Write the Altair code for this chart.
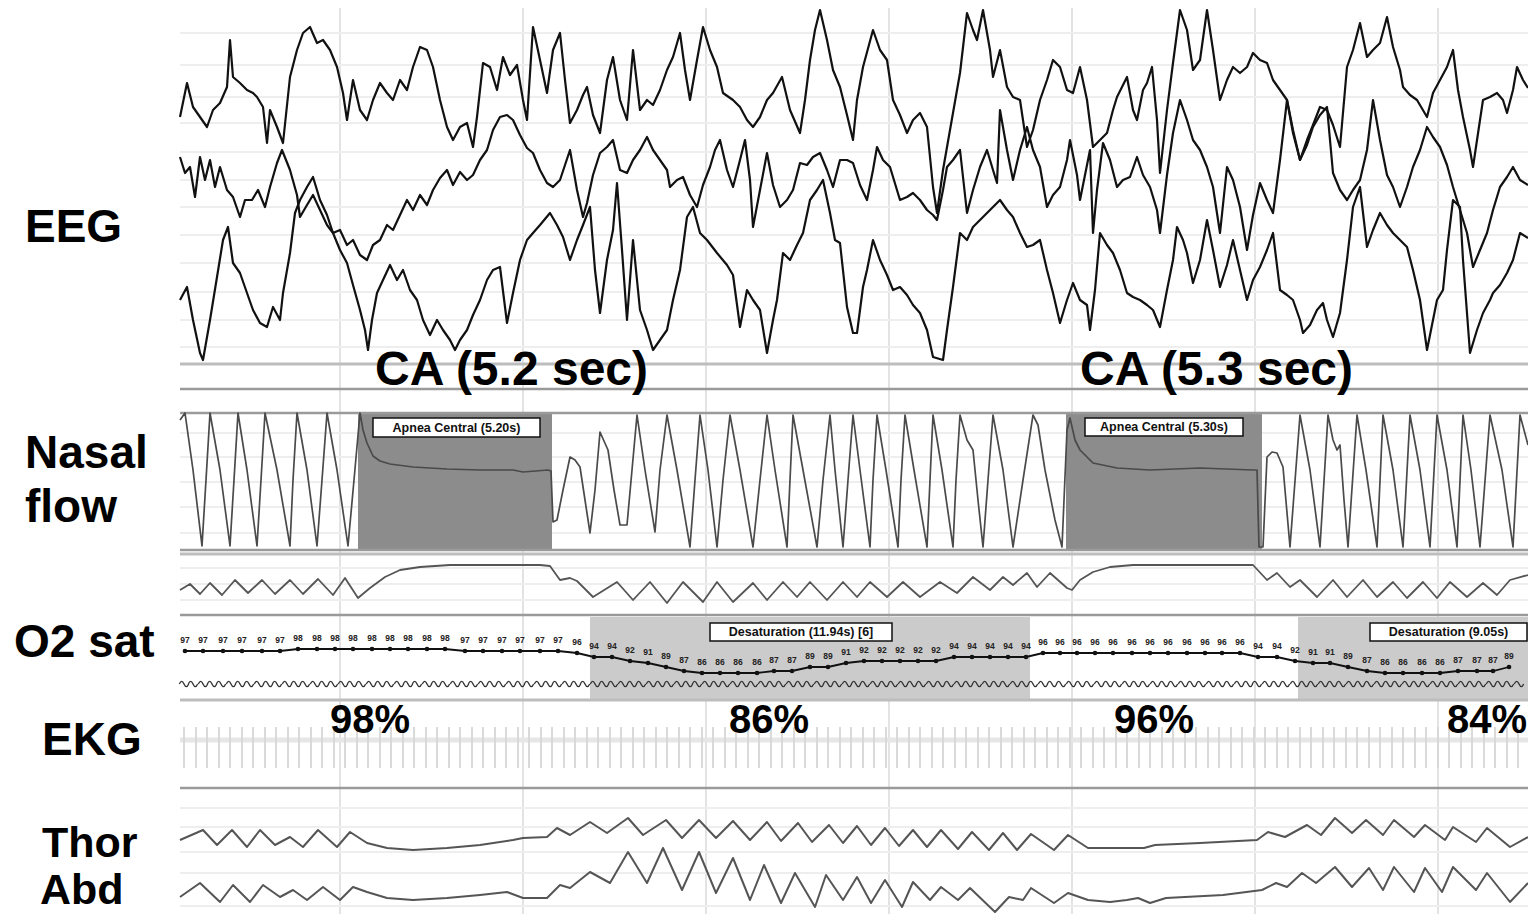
import altair as alt
import pandas as pd

# ---------------- layout constants ----------------
TOP, H, W = 8, 906, 1348          # plot area: display rows 8..914, samples 180..1528
T0, T1 = 180, 1528
FONT = "Liberation Sans"

# ---------------- time grid (every 5 s) ----------------
grid_t = [340, 523, 706, 889, 1072, 1255, 1438]

# faint / separator rows of the recording display
faint_rows = [33, 65, 97, 123, 152, 180, 207, 235, 263, 292, 320, 347,
              433, 457, 482, 507, 533, 568, 584, 600, 808, 827, 852, 873, 906]
light_rows = [364, 554, 700]
dark_rows = [389, 413, 550, 615, 788]

# ---------------- EEG (3 derivations) ----------------
eeg_a = [(180,117),(187,83),(193,107),(200,117),(207,127),(213,110),(220,103),(227,87),(230,40),(233,77),(240,83),(247,90),(253,93),(257,97),(263,107),(267,143),(270,110),(277,127),(283,143),(290,77),(297,50),(303,33),(310,27),(317,43),(323,40),(330,50),(337,67),(343,93),(347,120),(353,80),(360,110),(367,120),(373,100),(380,83),(387,93),(393,100),(400,80),(407,90),(413,67),(420,47),(427,50),(433,67),(440,100),(447,127),(453,140),(460,127),(467,123),(473,147),(477,117),(483,63),(490,67),(497,90),(503,57),(510,75),(517,65),(523,100),(527,120),(533,27),(540,60),(547,93),(553,50),(560,33),(565,80),(570,123),(577,110),(583,95),(587,87),(593,115),(600,133),(607,80),(613,57),(620,100),(627,120),(633,50),(640,110),(647,100),(653,105),(660,90),(667,70),(673,57),(680,33),(685,70),(690,100),(697,60),(703,27),(710,50),(717,67),(723,93),(733,100),(740,107),(747,120),(753,127),(760,117),(767,100),(773,93),(782,77),(790,110),(800,133),(805,100),(810,60),(815,30),(820,10),(827,40),(833,70),(840,87),(847,115),(853,140),(857,100),(863,67),(873,30),(880,50),(887,60),(893,100),(900,115),(907,133),(913,120),(920,113),(927,127),(933,187),(937,213),(943,170),(950,130),(960,73),(967,13),(973,30),(977,40),(983,10),(990,50),(993,77),(1000,50),(1007,87),(1013,97),(1020,100),(1027,147),(1033,130),(1040,100),(1047,80),(1053,60),(1060,67),(1067,90),(1073,93),(1080,67),(1087,100),(1093,147),(1100,140),(1107,133),(1113,110),(1117,97),(1127,77),(1133,110),(1137,120),(1143,90),(1147,83),(1152,67),(1157,120),(1160,173),(1167,110),(1173,63),(1180,10),(1187,30),(1193,70),(1200,60),(1207,10),(1213,50),(1220,100),(1227,80),(1233,67),(1240,73),(1247,67),(1253,53),(1260,60),(1267,63),(1273,80),(1280,90),(1287,100),(1293,133),(1300,160),(1307,140),(1313,125),(1320,107),(1327,110),(1333,125),(1340,147),(1347,67),(1353,50),(1360,23),(1367,57),(1373,50),(1380,43),(1387,17),(1393,47),(1400,70),(1403,87),(1410,95),(1417,100),(1427,117),(1433,93),(1440,80),(1447,67),(1453,50),(1458,90),(1463,117),(1470,150),(1473,167),(1480,120),(1483,100),(1490,97),(1497,93),(1503,100),(1507,113),(1513,90),(1517,67),(1523,80),(1528,88)]

eeg_b = [(180,157),(185,173),(190,167),(195,197),(200,157),(205,180),(210,160),(215,187),(220,167),(227,190),(233,197),(240,217),(245,200),(252,200),(258,190),(265,207),(270,187),(277,163),(282,150),(290,170),(297,195),(300,217),(307,205),(313,195),(320,210),(327,225),(333,233),(340,230),(347,245),(353,240),(360,255),(367,260),(373,245),(380,240),(387,225),(393,230),(400,215),(407,200),(413,210),(420,195),(427,205),(433,190),(440,178),(447,170),(453,185),(460,172),(467,180),(473,175),(480,160),(487,150),(493,130),(500,117),(507,115),(513,120),(520,135),(527,148),(533,153),(540,170),(547,183),(553,187),(560,180),(565,165),(570,150),(577,190),(583,217),(587,203),(593,175),(600,153),(607,147),(613,140),(620,170),(627,173),(633,160),(640,150),(647,137),(653,150),(660,160),(667,170),(670,187),(677,180),(683,177),(690,195),(697,207),(703,185),(710,167),(715,150),(720,140),(727,170),(733,187),(740,160),(745,140),(750,180),(753,227),(760,190),(767,153),(773,185),(780,207),(787,200),(793,190),(800,163),(807,165),(813,157),(820,153),(827,170),(833,187),(840,160),(847,160),(853,163),(860,185),(867,200),(873,170),(877,147),(883,160),(890,167),(900,200),(907,197),(913,193),(920,200),(927,210),(933,215),(937,220),(943,190),(947,167),(953,160),(960,150),(967,213),(973,190),(980,167),(987,150),(993,170),(997,183),(1000,110),(1007,150),(1013,180),(1020,150),(1027,127),(1033,150),(1040,167),(1047,207),(1053,195),(1060,187),(1067,160),(1070,140),(1077,175),(1080,200),(1087,165),(1090,150),(1093,233),(1097,190),(1103,143),(1110,160),(1117,187),(1123,180),(1130,177),(1137,157),(1143,175),(1150,187),(1157,210),(1160,233),(1167,175),(1173,133),(1180,100),(1187,120),(1193,140),(1200,150),(1207,167),(1213,187),(1220,233),(1227,167),(1233,180),(1240,207),(1247,250),(1253,215),(1260,183),(1267,200),(1273,213),(1280,160),(1287,100),(1293,130),(1300,160),(1307,145),(1313,127),(1320,115),(1327,107),(1333,173),(1340,190),(1347,200),(1353,190),(1360,180),(1367,150),(1373,100),(1380,140),(1387,175),(1393,187),(1400,207),(1407,187),(1413,167),(1420,150),(1427,127),(1433,137),(1440,147),(1447,165),(1453,187),(1460,210),(1467,233),(1473,267),(1480,250),(1487,233),(1493,210),(1500,187),(1507,177),(1513,167),(1520,180),(1528,185)]

eeg_c = [(180,300),(187,287),(193,320),(200,353),(203,360),(210,320),(217,277),(223,240),(228,227),(233,263),(240,273),(247,293),(253,310),(260,323),(267,327),(273,307),(280,320),(283,293),(290,253),(295,213),(300,200),(307,187),(313,177),(320,200),(327,215),(333,233),(340,250),(347,263),(353,285),(360,310),(365,330),(368,350),(372,320),(377,293),(383,280),(390,265),(397,280),(403,270),(410,290),(417,300),(423,320),(430,335),(437,320),(443,330),(450,340),(455,350),(460,340),(467,330),(473,315),(480,300),(487,280),(493,270),(500,267),(507,323),(513,293),(520,260),(527,240),(533,233),(540,225),(550,213),(557,225),(563,237),(570,260),(577,240),(583,225),(590,207),(595,270),(600,313),(607,260),(613,230),(617,183),(622,250),(627,320),(633,240),(640,310),(647,330),(653,350),(660,340),(667,330),(673,300),(680,270),(687,217),(693,207),(700,233),(707,240),(717,253),(727,265),(733,275),(740,327),(747,290),(753,300),(760,310),(767,353),(773,320),(777,300),(783,253),(790,260),(797,245),(803,233),(810,200),(817,190),(823,180),(830,213),(835,240),(840,243),(847,307),(853,333),(857,333),(863,287),(867,270),(873,240),(880,260),(887,275),(893,290),(900,287),(907,295),(913,305),(920,313),(927,330),(933,357),(943,360),(947,330),(953,287),(960,233),(967,240),(973,227),(980,220),(987,213),(993,207),(1000,200),(1007,210),(1013,217),(1020,233),(1027,247),(1033,245),(1040,240),(1047,270),(1053,293),(1060,323),(1067,300),(1073,283),(1080,300),(1087,305),(1090,330),(1095,290),(1100,233),(1107,245),(1113,253),(1120,270),(1127,293),(1133,297),(1140,300),(1147,305),(1153,310),(1160,327),(1167,290),(1173,260),(1177,227),(1183,240),(1187,253),(1193,283),(1200,260),(1207,220),(1213,250),(1220,287),(1227,265),(1233,240),(1240,270),(1247,300),(1253,280),(1260,267),(1267,250),(1273,233),(1280,290),(1287,295),(1293,300),(1300,320),(1303,333),(1310,325),(1317,310),(1323,303),(1327,320),(1333,337),(1340,313),(1347,260),(1353,207),(1360,187),(1367,247),(1373,230),(1380,213),(1387,225),(1393,233),(1400,240),(1407,247),(1413,270),(1420,300),(1427,350),(1433,320),(1437,300),(1443,290),(1447,250),(1453,200),(1460,207),(1463,260),(1470,353),(1477,330),(1483,313),(1490,300),(1493,293),(1500,285),(1507,273),(1513,260),(1520,233),(1528,238)]

# ---------------- Nasal flow ----------------
nasal = [(180,420),(185,413),(193,470),(202,546),(206,480),(210,413),(220,470),(230,546),(234,480),(238,413),(247,470),(257,546),(261,480),(265,413),(277,470),(290,546),(293,480),(297,413),(307,470),(317,546),(322,480),(327,413),(337,470),(348,546),(354,480),(360,413),
         (363,430),(367,443),(373,456),(380,461),(390,464),(413,467),(447,469),(480,470),(513,470),(523,472),(548,470),(551,471),(553,522),
         (557,520),(563,490),(570,457),(575,460),(580,467),(585,500),(590,533),(595,490),(600,432),(608,450),(614,490),(620,525),(627,525),(632,470),(637,415),(645,470),(655,532),(660,470),(667,415),(677,470),(690,547),(695,480),(700,415),(708,470),(717,547),(723,480),(730,415),(740,470),(753,547),(760,480),(767,415),(775,470),(787,547),(790,480),(793,415),(803,470),(817,547),(823,480),(830,415),(835,470),(843,547),(848,480),(853,415),(860,470),(870,547),(873,480),(877,415),(886,470),(898,547),(901,480),(905,415),(914,470),(927,547),(930,480),(933,415),(942,470),(953,547),(956,480),(960,415),(967,440),(973,450),(978,500),(983,547),(988,480),(993,415),(1003,470),(1013,547),(1023,480),(1033,415),(1038,425),(1045,470),(1055,520),(1062,547),(1067,430),(1070,418),
         (1075,440),(1080,450),(1093,463),(1117,468),(1150,470),(1200,468),(1253,470),(1257,470),(1259,547),
         (1263,547),(1267,457),(1272,452),(1277,453),(1283,467),(1290,547),(1300,415),(1310,470),(1320,547),(1328,415),(1333,440),(1337,450),(1340,445),(1344,500),(1348,547),(1357,415),(1366,470),(1377,547),(1383,415),(1393,470),(1403,547),(1410,415),(1420,470),(1430,547),(1437,415),(1447,470),(1457,547),(1463,415),(1471,470),(1480,547),(1490,415),(1502,470),(1513,547),(1520,415),(1528,445)]

# second airflow channel (pressure)
pressure = [(180,590),(190,584),(200,594),(210,583),(222,595),(235,580),(248,593),(262,580),(275,594),(290,580),(303,594),(318,579),(333,595),(345,578),(358,598),(370,588),(385,577),(400,570),(420,567),(450,565),(500,565),(540,565),(550,566),(560,580),(570,578),(577,581),(593,597),(617,582),(633,600),(650,582),(667,603),(683,582),(703,602),(717,582),(733,602),(753,583),(767,600),(783,582),(797,597),(810,582),(827,600),(843,582),(857,597),(870,582),(887,597),(903,582),(920,597),(940,582),(957,593),(973,577),(990,590),(1003,577),(1013,585),(1027,573),(1037,587),(1050,573),(1067,588),(1072,590),(1080,580),(1093,572),(1110,567),(1133,565),(1200,565),(1253,565),(1267,580),(1277,573),(1290,587),(1300,580),(1317,597),(1333,580),(1347,597),(1363,580),(1377,597),(1393,582),(1407,598),(1423,582),(1437,598),(1450,582),(1467,597),(1483,583),(1497,595),(1510,580),(1528,575)]

# ---------------- O2 saturation (%) ----------------
spo2_t = [185,203,223,242,262,280,298,317,335,353,372,390,408,427,445,465,483,502,520,540,558,577,594,612,630,648,666,684,702,720,738,757,774,792,810,828,846,864,882,900,918,936,954,972,990,1008,1026,1043,1060,1077,1095,1113,1132,1150,1168,1187,1205,1222,1240,1258,1277,1295,1313,1330,1348,1367,1385,1403,1422,1440,1458,1477,1493,1509]
spo2_v = [97,97,97,97,97,97,98,98,98,98,98,98,98,98,98,97,97,97,97,97,97,96,94,94,92,91,89,87,86,86,86,86,87,87,89,89,91,92,92,92,92,92,94,94,94,94,94,96,96,96,96,96,96,96,96,96,96,96,96,94,94,92,91,91,89,87,86,86,86,86,87,87,87,89]

# pleth pulse beats
pulse_t = [184,193,203,212,221,231,240,249,259,268,277,287,296,305,315,324,333,343,352,361,371,380,389,399,408,417,427,436,445,455,464,473,483,492,501,511,520,529,539,548,557,567,576,585,595,604,613,623,632,641,651,660,669,679,688,697,707,716,725,735,744,753,763,772,781,791,800,809,819,828,837,847,856,865,875,884,893,903,912,921,931,940,949,959,968,977,987,996,1005,1015,1024,1033,1043,1052,1061,1071,1080,1089,1099,1108,1117,1127,1136,1145,1155,1164,1173,1183,1192,1201,1211,1220,1229,1239,1248,1257,1267,1276,1285,1295,1304,1313,1323,1332,1341,1351,1360,1369,1379,1388,1397,1407,1416,1425,1435,1444,1453,1463,1472,1481,1491,1500,1509,1519]

# EKG R-wave times
ekg_t = [184,196,207,219,230,242,253,265,276,288,299,311,322,334,345,357,368,380,391,403,414,426,437,449,460,472,483,495,506,518,529,541,552,564,575,587,598,610,621,633,644,656,667,679,690,702,713,725,736,748,759,771,782,794,805,817,828,840,851,863,874,886,897,909,920,932,943,955,966,978,989,1001,1012,1024,1035,1047,1058,1070,1081,1093,1104,1116,1127,1139,1150,1162,1173,1185,1196,1208,1219,1231,1242,1254,1265,1277,1288,1300,1311,1323,1334,1346,1357,1369,1380,1392,1403,1415,1426,1438,1449,1461,1472,1484,1495,1507,1518]

# ---------------- effort belts ----------------
thor = [(180,840),(203,830),(217,845),(232,830),(247,847),(260,830),(275,845),(290,837),(303,847),(318,830),(337,847),(350,832),(367,843),(387,848),(413,850),(447,848),(480,845),(513,840),(523,838),(547,837),(557,828),(570,835),(590,822),(607,833),(628,818),(643,835),(666,820),(682,838),(699,820),(716,838),(733,821),(750,840),(767,822),(781,841),(798,823),(812,842),(829,825),(843,843),(857,826),(871,845),(885,828),(899,846),(913,830),(927,847),(941,830),(958,849),(972,832),(989,850),(1003,833),(1017,850),(1031,834),(1054,850),(1068,835),(1088,848),(1144,848),(1155,845),(1200,843),(1257,840),(1268,832),(1285,837),(1307,825),(1321,835),(1335,818),(1352,833),(1366,820),(1383,835),(1394,820),(1414,837),(1425,825),(1445,840),(1453,827),(1476,842),(1487,828),(1510,847),(1528,837)]

abd = [(180,897),(200,883),(220,902),(233,885),(250,902),(263,885),(280,897),(293,890),(307,900),(323,887),(340,900),(353,887),(367,892),(387,898),(413,900),(447,898),(480,895),(507,892),(523,898),(547,898),(560,885),(570,888),(590,872),(610,883),(628,852),(647,883),(663,848),(682,890),(699,852),(716,893),(733,858),(750,900),(764,865),(781,903),(795,873),(815,907),(826,875),(843,900),(857,877),(871,903),(885,880),(902,907),(913,882),(930,900),(941,887),(958,900),(970,888),(995,912),(1009,897),(1023,900),(1031,888),(1054,903),(1068,893),(1088,900),(1110,902),(1127,900),(1138,898),(1150,903),(1166,898),(1223,895),(1262,890),(1276,883),(1287,887),(1302,873),(1316,883),(1335,867),(1352,887),(1369,868),(1383,890),(1394,867),(1414,892),(1425,868),(1442,892),(1453,867),(1476,890),(1487,873),(1510,902),(1528,883)]

# ---------------- scored events ----------------
apnea_start = [358, 1066]
apnea_end = [552, 1262]
desat_start = [590, 1298]
desat_end = [1030, 1528]

event_labels = ["Apnea Central (5.20s)", "Apnea Central (5.30s)",
                "Desaturation (11.94s) [6]", "Desaturation (9.05s)"]
event_box_x0 = [373, 1085, 710, 1370]
event_box_x1 = [540, 1243, 892, 1527]
event_box_y0 = [418, 418, 623, 623]
event_box_y1 = [437, 436, 641, 641]

# ---------------- annotation texts ----------------
channel_labels = ["EEG", "Nasal", "flow", "O2 sat", "EKG"]
channel_label_x = [25, 25, 25, 14, 42]
channel_label_y = [242, 468, 522, 657, 755]

belt_labels = ["Thor", "Abd"]
belt_label_x = [42, 40]
belt_label_y = [857, 904]

ca_labels = ["CA (5.2 sec)", "CA (5.3 sec)"]
ca_x = [375, 1080]
ca_y = [385, 385]

sat_labels = ["98%", "86%", "96%", "84%"]
sat_x = [370, 769, 1154, 1487]
sat_y = [733, 733, 733, 733]

# panel bounds (layout)
NASAL_TOP, NASAL_BOT = 413, 550
O2_TOP, O2_BOT = 617, 699
PULSE_ROW = 684
EKG_TOP, EKG_BOT, EKG_BASE = 727, 768, 740

# ---------------- scales ----------------
X = alt.Scale(domain=[T0, T1], nice=False, zero=False)
Y = alt.Scale(domain=[TOP, TOP + H], range=[0, H], nice=False, zero=False)
YS = alt.Scale(domain=[84, 98], range=[677 - TOP, 649 - TOP], nice=False, zero=False)


def xe(f="t"):
    return alt.X(f + ":Q", scale=X, axis=None)


def ye(f="v", s=Y):
    return alt.Y(f + ":Q", scale=s, axis=None)


def pairs_df(pairs):
    return pd.DataFrame({"t": [p[0] for p in pairs], "v": [p[1] for p in pairs],
                         "i": list(range(len(pairs)))})


def trace(pairs, color, width):
    return alt.Chart(pairs_df(pairs)).mark_line(
        color=color, strokeWidth=width, strokeJoin="round").encode(
        x=xe(), y=ye(), order=alt.Order("i:Q"))


layers = []

# grid
layers.append(alt.Chart(pd.DataFrame({"t": grid_t})).mark_rule(
    color="#e3e3e3", strokeWidth=2).encode(x=xe()))
layers.append(alt.Chart(pd.DataFrame({"v": faint_rows})).mark_rule(
    color="#eeeeee", strokeWidth=2).encode(y=ye()))

# event shading
apnea_df = pd.DataFrame({"s": apnea_start, "e": apnea_end, "y0": NASAL_TOP, "y1": NASAL_BOT})
layers.append(alt.Chart(apnea_df).mark_rect(color="#8c8c8c").encode(
    x=xe("s"), x2="e:Q", y=ye("y0"), y2="y1:Q"))
desat_df = pd.DataFrame({"s": desat_start, "e": desat_end, "y0": O2_TOP, "y1": O2_BOT})
layers.append(alt.Chart(desat_df).mark_rect(color="#cbcbcb").encode(
    x=xe("s"), x2="e:Q", y=ye("y0"), y2="y1:Q"))

# separators
layers.append(alt.Chart(pd.DataFrame({"v": light_rows})).mark_rule(
    color="#bdbdbd", strokeWidth=3).encode(y=ye()))
layers.append(alt.Chart(pd.DataFrame({"v": dark_rows})).mark_rule(
    color="#9a9a9a", strokeWidth=2.5).encode(y=ye()))

# EEG
for tr in (eeg_a, eeg_b, eeg_c):
    layers.append(trace(tr, "#111111", 2.2))

# respiration
layers.append(trace(nasal, "#4a4a4a", 1.7))
layers.append(trace(pressure, "#555555", 1.8))

# EKG
ekg_df = pd.DataFrame({"t": ekg_t, "y0": EKG_TOP, "y1": EKG_BOT})
layers.append(alt.Chart(pd.DataFrame({"v": [EKG_BASE]})).mark_rule(
    color="#e6e6e6", strokeWidth=5).encode(y=ye()))
layers.append(alt.Chart(ekg_df).mark_rule(color="#d6d6d6", strokeWidth=1.8).encode(
    x=xe(), y=ye("y0"), y2="y1:Q"))

# pulse wave
WAVE = "M-1,0C-0.65,-0.75,-0.35,-0.75,0,0C0.35,0.75,0.65,0.75,1,0"
pulse_df = pd.DataFrame({"t": pulse_t, "v": PULSE_ROW})
layers.append(alt.Chart(pulse_df).mark_point(
    shape=WAVE, size=87, filled=False, color="#333333", strokeWidth=1.4, opacity=1).encode(
    x=xe(), y=ye()))

# SpO2
spo2_df = pd.DataFrame({"t": spo2_t, "v": spo2_v, "i": list(range(len(spo2_t)))})
layers.append(alt.Chart(spo2_df).mark_line(color="#111111", strokeWidth=1.8).encode(
    x=xe(), y=ye(s=YS), order=alt.Order("i:Q")))
layers.append(alt.Chart(spo2_df).mark_point(
    filled=True, size=22, color="#111111", opacity=1).encode(x=xe(), y=ye(s=YS)))
layers.append(alt.Chart(spo2_df).mark_text(
    fontSize=8.5, fontWeight="bold", dy=-11, color="#222222", font=FONT).encode(
    x=xe(), y=ye(s=YS), text=alt.Text("v:Q", format="d")))

# belts
layers.append(trace(thor, "#555555", 2))
layers.append(trace(abd, "#555555", 2))

# event label boxes
box_df = pd.DataFrame({"x0": event_box_x0, "x1": event_box_x1, "y0": event_box_y0,
                       "y1": event_box_y1, "label": event_labels})
layers.append(alt.Chart(box_df).mark_rect(fill="white", stroke="#111111", strokeWidth=1.5).encode(
    x=xe("x0"), x2="x1:Q", y=ye("y0"), y2="y1:Q"))
layers.append(alt.Chart(box_df).transform_calculate(
    xm="(datum.x0 + datum.x1) / 2", ym="(datum.y0 + datum.y1) / 2").mark_text(
    fontSize=12.5, fontWeight="bold", font=FONT, color="#111111", baseline="middle").encode(
    x=xe("xm"), y=ye("ym"), text="label:N"))

# big annotation texts
lab_df = pd.DataFrame({"text": channel_labels, "x": channel_label_x, "y": channel_label_y})
layers.append(alt.Chart(lab_df).mark_text(
    align="left", baseline="alphabetic", fontSize=46, fontWeight="bold", font=FONT,
    color="black").encode(x=xe("x"), y=ye("y"), text="text:N"))
belt_df = pd.DataFrame({"text": belt_labels, "x": belt_label_x, "y": belt_label_y})
layers.append(alt.Chart(belt_df).mark_text(
    align="left", baseline="alphabetic", fontSize=43, fontWeight="bold", font=FONT,
    color="black").encode(x=xe("x"), y=ye("y"), text="text:N"))
ca_df = pd.DataFrame({"text": ca_labels, "x": ca_x, "y": ca_y})
layers.append(alt.Chart(ca_df).mark_text(
    align="left", baseline="alphabetic", fontSize=48, fontWeight="bold", font=FONT,
    color="black").encode(x=xe("x"), y=ye("y"), text="text:N"))
sat_df = pd.DataFrame({"text": sat_labels, "x": sat_x, "y": sat_y})
layers.append(alt.Chart(sat_df).mark_text(
    align="center", baseline="alphabetic", fontSize=40, fontWeight="bold", font=FONT,
    color="black").encode(x=xe("x"), y=ye("y"), text="text:N"))

chart = alt.layer(*layers).resolve_scale(y="independent").properties(
    width=W, height=H,
    autosize=alt.AutoSizeParams(type="none"),
    padding={"left": 172, "top": 0, "right": 0, "bottom": 0},
).configure_view(stroke="transparent")

chart.save("out.html", embed_options={"renderer": "svg", "actions": False})
